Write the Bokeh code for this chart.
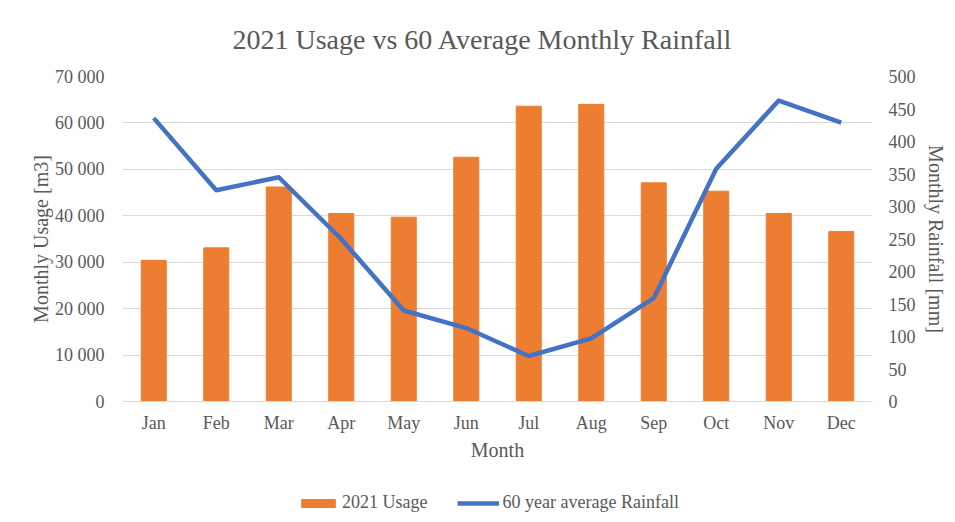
from bokeh.plotting import figure
from bokeh.layouts import column
from bokeh.models import (LinearAxis, Range1d, FactorRange, FixedTicker, CustomJSTickFormatter,
                          Legend, LegendItem, ColumnDataSource)
from bokeh.embed import file_html
from bokeh.resources import INLINE

months = ["Jan", "Feb", "Mar", "Apr", "May", "Jun", "Jul", "Aug", "Sep", "Oct", "Nov", "Dec"]
usage_2021 = [30400, 33100, 46200, 40500, 39700, 52600, 63600, 64000, 47100, 45300, 40500, 36600]
rainfall_60yr = [436, 325, 345, 250, 140, 113, 70, 97, 159, 358, 463, 429]
usage_ticks = [0, 10000, 20000, 30000, 40000, 50000, 60000, 70000]
rain_ticks = [0, 50, 100, 150, 200, 250, 300, 350, 400, 450, 500]

FONT = "Liberation Serif"
GREY = "#595959"
GRID = "#d9d9d9"
ORANGE = "#ED7D31"
BLUE = "#4472C4"

src = ColumnDataSource(dict(month=months, usage=usage_2021, rain=rainfall_60yr))

p = figure(width=955, height=470, x_range=FactorRange(*months), y_range=Range1d(0, 70000),
           output_backend="svg", toolbar_location=None,
           title="2021 Usage vs 60 Average Monthly Rainfall")
p.min_border_left = 122
p.min_border_right = 83
p.min_border_top = 76
p.min_border_bottom = 69
p.outline_line_color = None
p.background_fill_color = "white"
p.border_fill_color = "white"

p.title.align = "left"
p.title.offset = 110
p.title.text_font = FONT
p.title.text_font_size = "28px"
p.title.text_font_style = "normal"
p.title.text_color = GREY
p.title.standoff = 43

p.extra_y_ranges = {"rain": Range1d(0, 500)}

bars = p.vbar(x="month", top="usage", width=0.4, source=src, color=ORANGE)
line = p.line(x="month", y="rain", source=src, y_range_name="rain", line_color=BLUE,
              line_width=4.5, line_join="round")

ya = p.yaxis[0]
ya.ticker = FixedTicker(ticks=usage_ticks)
ya.formatter = CustomJSTickFormatter(code="return tick >= 1000 ? Math.round(tick/1000) + ' 000' : String(tick);")
ya.axis_label = "Monthly Usage [m3]"
ya.major_label_standoff = 12
ya.axis_label_standoff = 0

ra = LinearAxis(y_range_name="rain", ticker=FixedTicker(ticks=rain_ticks),
                axis_label="Monthly Rainfall [mm]")
p.add_layout(ra, "right")
ra.major_label_standoff = 10
ra.axis_label_standoff = 6

for ax in [ya, ra]:
    ax.axis_line_color = None
    ax.major_tick_line_color = None
    ax.minor_tick_line_color = None

xa = p.xaxis[0]
xa.axis_label = "Month"
xa.axis_line_color = GRID
xa.axis_line_width = 1
xa.major_tick_line_color = None
xa.minor_tick_line_color = None
xa.major_label_standoff = 5
xa.axis_label_standoff = 3

for ax in [ya, ra, xa]:
    ax.major_label_text_font = FONT
    ax.major_label_text_font_size = "18px"
    ax.major_label_text_color = GREY
    ax.axis_label_text_font = FONT
    ax.axis_label_text_font_size = "20px"
    ax.axis_label_text_font_style = "normal"
    ax.axis_label_text_color = GREY

p.xgrid.grid_line_color = None
p.ygrid.ticker = FixedTicker(ticks=usage_ticks)
p.ygrid.grid_line_color = GRID
p.ygrid.grid_line_width = 1

# Legend strip below the chart; its glyph renderers are hidden, only the legend shows
lf = figure(width=955, height=52, x_range=FactorRange(*months), y_range=Range1d(-20, -10),
            output_backend="svg", toolbar_location=None,
            x_axis_location=None, y_axis_location=None)
lf.min_border = 0
lf.outline_line_color = None
lf.grid.visible = False
lbars = lf.vbar(x="month", top="usage", width=0.4, source=src, color=ORANGE, visible=False)
lline = lf.line(x="month", y="rain", source=src, line_color=BLUE, line_width=4.5, visible=False)

legend = Legend(items=[LegendItem(label="2021 Usage", renderers=[lbars]),
                       LegendItem(label="60 year average Rainfall", renderers=[lline])],
                orientation="horizontal", location=(175, 9))
legend.label_text_font = FONT
legend.label_text_font_size = "18px"
legend.label_text_color = GREY
legend.glyph_width = 42
legend.glyph_height = 10
legend.label_standoff = 3
legend.spacing = 30
legend.border_line_color = None
legend.background_fill_alpha = 0
legend.padding = 2
legend.margin = 0
lf.add_layout(legend, "center")

layout = column(p, lf, spacing=0)
open("out.html", "w").write(file_html(layout, INLINE))
